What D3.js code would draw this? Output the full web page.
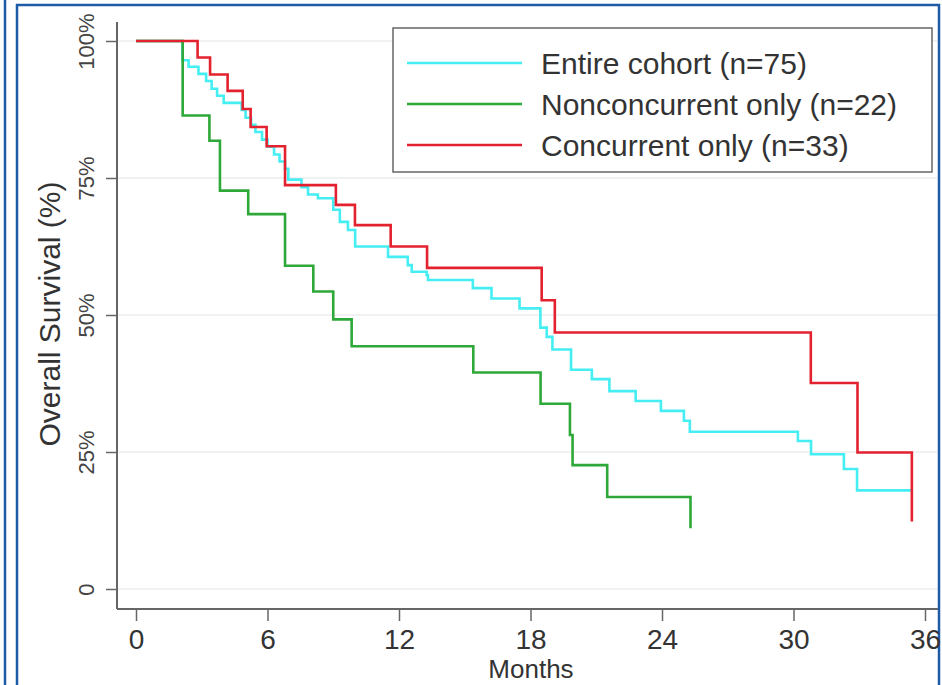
<!DOCTYPE html>
<html>
<head>
<meta charset="utf-8">
<script src="https://cdn.jsdelivr.net/npm/d3@7"></script>
<style>
  body { margin: 0; background: #fff; }
  text { font-family: "Liberation Sans", Arial, Helvetica, sans-serif; }
</style>
</head>
<body>
<svg id="chart" width="942" height="685"></svg>
<script>
// survival curves: event times (months) and survival after each step
var seriesNames = ["Entire cohort (n=75)", "Nonconcurrent only (n=22)", "Concurrent only (n=33)"];
var seriesColors = ["#45eef2", "#2ea838", "#e3212f"];

var entireTimes = [0, 2.12, 2.4, 2.85, 3.2, 3.45, 3.7, 4.0, 4.82, 5.0, 5.25, 5.45, 5.75, 6.0, 6.3, 6.55, 6.8, 6.95, 7.55, 7.85, 8.3, 9.0, 9.3, 9.67, 10.0, 11.5, 12.4, 12.58, 13.26, 13.32, 15.37, 16.22, 17.5, 18.45, 18.74, 19.0, 19.85, 20.8, 21.6, 22.8, 23.95, 25.0, 25.27, 30.2, 30.8, 32.3, 32.9, 35.36];
var entireSurv  = [1, 0.965, 0.953, 0.94, 0.927, 0.913, 0.90, 0.887, 0.874, 0.86, 0.847, 0.834, 0.82, 0.807, 0.793, 0.78, 0.767, 0.747, 0.733, 0.72, 0.713, 0.692, 0.67, 0.655, 0.625, 0.606, 0.591, 0.579, 0.573, 0.564, 0.549, 0.53, 0.512, 0.477, 0.46, 0.437, 0.40, 0.383, 0.361, 0.343, 0.325, 0.307, 0.287, 0.27, 0.246, 0.219, 0.18, 0.18];

var nonconTimes = [0, 2.13, 3.35, 3.83, 5.12, 6.8, 8.09, 9.0, 9.84, 15.39, 18.46, 19.8, 19.92, 21.5, 25.3];
var nonconSurv  = [1, 0.864, 0.818, 0.727, 0.684, 0.59, 0.543, 0.492, 0.443, 0.395, 0.338, 0.281, 0.226, 0.168, 0.111];

var concTimes = [0, 2.81, 3.38, 4.18, 4.87, 5.23, 5.96, 6.8, 9.12, 9.99, 11.62, 13.28, 18.51, 19.11, 30.79, 32.92, 35.4];
var concSurv  = [1, 0.97, 0.939, 0.909, 0.876, 0.843, 0.808, 0.737, 0.701, 0.664, 0.625, 0.586, 0.527, 0.468, 0.376, 0.249, 0.123];

var xTicks = [0, 6, 12, 18, 24, 30, 36];
var yTicks = [0, 0.25, 0.5, 0.75, 1];
var yTickLabels = ["0", "25%", "50%", "75%", "100%"];

var svg = d3.select("#chart");

var x = d3.scaleLinear().domain([0, 36]).range([136, 925]);
var y = d3.scaleLinear().domain([0, 1]).range([589, 41]);

var axisLeftX = 117, axisBottomY = 609;

// outer frame
svg.append("line")
   .attr("x1", 5).attr("y1", 0).attr("x2", 5).attr("y2", 685)
   .attr("stroke", "#1d5ba6").attr("stroke-width", 2.5);
svg.append("rect")
   .attr("x", 17).attr("y", 5).attr("width", 922).attr("height", 700)
   .attr("fill", "none").attr("stroke", "#1d5ba6").attr("stroke-width", 2.5);

// gridlines
svg.append("g").selectAll("line")
   .data(yTicks)
   .enter().append("line")
   .attr("x1", axisLeftX).attr("x2", 937)
   .attr("y1", function(d) { return y(d); })
   .attr("y2", function(d) { return y(d); })
   .attr("stroke", "#ececec").attr("stroke-width", 1.5);

// y axis
var yAxis = svg.append("g")
   .attr("transform", "translate(" + axisLeftX + ",0)")
   .call(d3.axisLeft(y)
           .tickValues(yTicks)
           .tickSize(11)
           .tickSizeOuter(0)
           .tickFormat(function(d, i) { return yTickLabels[i]; }));
yAxis.select(".domain").remove();
yAxis.selectAll(".tick line").attr("stroke", "#666").attr("stroke-width", 1.5);
yAxis.selectAll(".tick text")
     .attr("x", null).attr("dy", null)
     .attr("transform", "translate(-23,0) rotate(-90)")
     .attr("text-anchor", "middle")
     .attr("fill", "#444")
     .style("font-size", "22px");
svg.append("line")
   .attr("x1", axisLeftX).attr("x2", axisLeftX)
   .attr("y1", 22).attr("y2", axisBottomY)
   .attr("stroke", "#666").attr("stroke-width", 2);

// x axis
var xAxis = svg.append("g")
   .attr("transform", "translate(0," + axisBottomY + ")")
   .call(d3.axisBottom(x)
           .tickValues(xTicks)
           .tickSize(12)
           .tickSizeOuter(0));
xAxis.select(".domain").remove();
xAxis.selectAll(".tick line").attr("stroke", "#666").attr("stroke-width", 1.5);
xAxis.selectAll(".tick text")
     .attr("y", 40).attr("dy", null)
     .attr("fill", "#333")
     .style("font-size", "28px");
svg.append("line")
   .attr("x1", axisLeftX).attr("x2", 938)
   .attr("y1", axisBottomY).attr("y2", axisBottomY)
   .attr("stroke", "#666").attr("stroke-width", 2);

// axis titles
svg.append("text")
   .attr("transform", "translate(60,314) rotate(-90)")
   .attr("text-anchor", "middle")
   .attr("fill", "#333")
   .style("font-size", "30px")
   .text("Overall Survival (%)");
svg.append("text")
   .attr("x", 531).attr("y", 678)
   .attr("text-anchor", "middle")
   .attr("fill", "#333")
   .style("font-size", "26px")
   .text("Months");

// curves
var line = d3.line()
   .x(function(d) { return x(d[0]); })
   .y(function(d) { return y(d[1]); })
   .curve(d3.curveStepAfter);

var curves = [
  d3.zip(entireTimes, entireSurv),
  d3.zip(nonconTimes, nonconSurv),
  d3.zip(concTimes, concSurv)
];

svg.append("g").selectAll("path")
   .data(curves)
   .enter().append("path")
   .attr("d", line)
   .attr("fill", "none")
   .attr("stroke", function(d, i) { return seriesColors[i]; })
   .attr("stroke-width", 2.6);

// legend
var legend = svg.append("g");
legend.append("rect")
   .attr("x", 393).attr("y", 28).attr("width", 539).attr("height", 144)
   .attr("fill", "#fff").attr("stroke", "#666").attr("stroke-width", 1.5);
var rows = legend.selectAll("g.row")
   .data(seriesNames)
   .enter().append("g")
   .attr("class", "row")
   .attr("transform", function(d, i) { return "translate(0," + (63 + i * 41) + ")"; });
rows.append("line")
   .attr("x1", 407).attr("x2", 522)
   .attr("stroke", function(d, i) { return seriesColors[i]; })
   .attr("stroke-width", 2.6);
rows.append("text")
   .attr("x", 541).attr("dy", "0.35em")
   .attr("fill", "#333")
   .style("font-size", "30px")
   .text(function(d) { return d; });
</script>
</body>
</html>
